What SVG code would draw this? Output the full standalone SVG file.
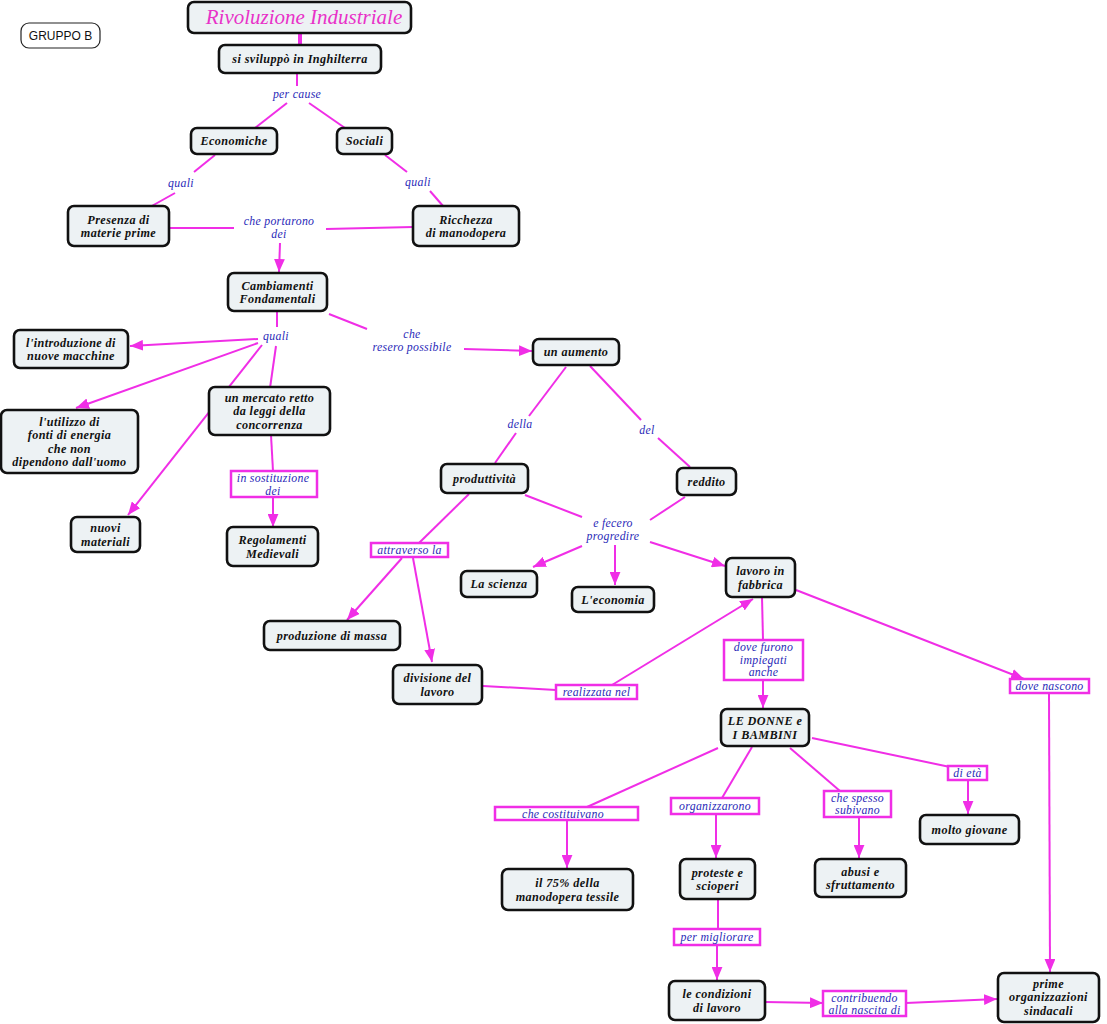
<svg xmlns="http://www.w3.org/2000/svg" width="1107" height="1024" viewBox="0 0 1107 1024">
<defs>
<marker id="ah" viewBox="0 0 12 10" refX="12" refY="5" markerWidth="13" markerHeight="11" orient="auto" markerUnits="userSpaceOnUse"><path d="M0,0 L12,5 L0,10 z" fill="#f02ee6"/></marker>
<style>
.c{stroke:#f02ee6;stroke-width:2;fill:none}
.ca{stroke:#f02ee6;stroke-width:2;fill:none;marker-end:url(#ah)}
.n rect{fill:#edf2f4;stroke:#111;stroke-width:2.6}
.n text{font-family:"Liberation Serif",serif;font-weight:bold;font-style:italic;font-size:12.2px;letter-spacing:0.4px;fill:#111;text-anchor:middle}
.l text{font-family:"Liberation Serif",serif;font-style:italic;font-size:11.8px;letter-spacing:0.3px;fill:#2a2ab8;text-anchor:middle}
.l rect{fill:#fff;stroke:#f02ee6;stroke-width:2.5}
</style>
</defs>
<rect width="1107" height="1024" fill="#fff"/>
<g id="connectors">
<path class="c" d="M300,33 L300,45" style="stroke-width:4"/>
<path class="c" d="M297,73 L297,86"/>
<path class="c" d="M287,103 L255,128"/>
<path class="c" d="M309,103 L345,128"/>
<path class="c" d="M215,155 L194,172"/>
<path class="c" d="M175,193 L150,207"/>
<path class="c" d="M385,155 L407,172"/>
<path class="c" d="M430,191 L443,206"/>
<path class="c" d="M169,228 L234,228"/>
<path class="c" d="M326,229 L413,227"/>
<path class="ca" d="M280,243 L279,272"/>
<path class="c" d="M277,311 L277,327"/>
<path class="ca" d="M258,339 L130,346"/>
<path class="ca" d="M258,343 L76,408"/>
<path class="ca" d="M262,345 L128,515"/>
<path class="c" d="M276,346 L270,388"/>
<path class="c" d="M271,435 L273,471"/>
<path class="ca" d="M273,497 L273,527"/>
<path class="c" d="M329,314 L367,329"/>
<path class="ca" d="M464,349 L532,351"/>
<path class="c" d="M566,367 L529,416"/>
<path class="c" d="M516,433 L495,463"/>
<path class="c" d="M590,366 L641,420"/>
<path class="c" d="M658,438 L690,467"/>
<path class="c" d="M525,495 L582,517"/>
<path class="c" d="M685,497 L650,520"/>
<path class="ca" d="M582,546 L533,567"/>
<path class="ca" d="M615,545 L615,585"/>
<path class="ca" d="M650,542 L725,566"/>
<path class="c" d="M469,494 L419,543"/>
<path class="ca" d="M402,558 L347,620"/>
<path class="ca" d="M413,558 L432,662"/>
<path class="c" d="M483,686 L556,690"/>
<path class="ca" d="M612,685 L753,599"/>
<path class="c" d="M762,597 L763,640"/>
<path class="ca" d="M763,680 L763,708"/>
<path class="ca" d="M796,590 L1024,679"/>
<path class="ca" d="M1049,693 L1050,972"/>
<path class="c" d="M718,748 L587,807"/>
<path class="ca" d="M567,820 L567,868"/>
<path class="c" d="M752,747 L722,798"/>
<path class="ca" d="M716,814 L716,858"/>
<path class="c" d="M790,748 L840,791"/>
<path class="ca" d="M859,817 L859,858"/>
<path class="c" d="M812,738 L950,767"/>
<path class="ca" d="M968,780 L968,814"/>
<path class="c" d="M718,899 L718,929"/>
<path class="ca" d="M717,946 L717,980"/>
<path class="ca" d="M765,1002 L823,1003"/>
<path class="ca" d="M906,1003 L997,999"/>
</g>
<g id="gruppo"><rect x="21" y="23" width="79" height="25" rx="8" fill="#fff" stroke="#222" stroke-width="1.2"/><text x="60.5" y="40" font-family="Liberation Sans,Arial,sans-serif" font-size="12" text-anchor="middle" fill="#111">GRUPPO B</text></g>
<g id="title"><rect x="188" y="2" width="223" height="31" rx="6" fill="#edf2f4" stroke="#111" stroke-width="2.6"/><text x="304" y="24" font-family="Liberation Serif,serif" font-style="italic" font-size="21" text-anchor="middle" fill="#e832c8">Rivoluzione Industriale</text></g>
<g id="n1" class="n"><rect x="219" y="45" width="162" height="28" rx="6"/><text x="300" y="63.3">si sviluppò in Inghilterra</text></g>
<g id="n2" class="n"><rect x="191" y="128" width="86" height="26" rx="6"/><text x="234" y="145.3">Economiche</text></g>
<g id="n3" class="n"><rect x="337" y="128" width="55" height="26" rx="6"/><text x="364.5" y="145.3">Sociali</text></g>
<g id="n4" class="n"><rect x="68" y="206" width="101" height="40" rx="6"/><text x="118.5" y="223.5">Presenza di</text><text x="118.5" y="237">materie prime</text></g>
<g id="n5" class="n"><rect x="413" y="206" width="106" height="40" rx="6"/><text x="466" y="223.5">Ricchezza</text><text x="466" y="237">di manodopera</text></g>
<g id="n6" class="n"><rect x="228" y="273" width="99" height="38" rx="6"/><text x="277.5" y="289.5">Cambiamenti</text><text x="277.5" y="303">Fondamentali</text></g>
<g id="n7" class="n"><rect x="14" y="330" width="114" height="38" rx="6"/><text x="71" y="346.5">l'introduzione di</text><text x="71" y="360">nuove macchine</text></g>
<g id="n8" class="n"><rect x="1" y="410" width="137" height="63" rx="6"/><text x="69.5" y="425.5">l'utilizzo di</text><text x="69.5" y="439">fonti di energia</text><text x="69.5" y="452.5">che non</text><text x="69.5" y="466">dipendono dall'uomo</text></g>
<g id="n9" class="n"><rect x="209" y="387" width="121" height="48" rx="6"/><text x="269.5" y="401.8">un mercato retto</text><text x="269.5" y="415.3">da leggi della</text><text x="269.5" y="428.8">concorrenza</text></g>
<g id="n10" class="n"><rect x="71" y="517" width="69" height="35" rx="6"/><text x="105.5" y="532">nuovi</text><text x="105.5" y="545.5">materiali</text></g>
<g id="n11" class="n"><rect x="227" y="527" width="91" height="39" rx="6"/><text x="272.5" y="544">Regolamenti</text><text x="272.5" y="557.5">Medievali</text></g>
<g id="n12" class="n"><rect x="533" y="339" width="86" height="26" rx="6"/><text x="576" y="356.3">un aumento</text></g>
<g id="n13" class="n"><rect x="441" y="464" width="87" height="29" rx="6"/><text x="484.5" y="482.8">produttività</text></g>
<g id="n14" class="n"><rect x="677" y="468" width="59" height="27" rx="6"/><text x="706.5" y="485.8">reddito</text></g>
<g id="n15" class="n"><rect x="461" y="571" width="76" height="26" rx="6"/><text x="499" y="588.3">La scienza</text></g>
<g id="n16" class="n"><rect x="572" y="587" width="82" height="25" rx="6"/><text x="613" y="603.8">L'economia</text></g>
<g id="n17" class="n"><rect x="726" y="558" width="69" height="39" rx="6"/><text x="760.5" y="575">lavoro in</text><text x="760.5" y="588.5">fabbrica</text></g>
<g id="n18" class="n"><rect x="264" y="621" width="136" height="29" rx="6"/><text x="332" y="639.8">produzione di massa</text></g>
<g id="n19" class="n"><rect x="393" y="665" width="89" height="39" rx="6"/><text x="437.5" y="682">divisione del</text><text x="437.5" y="695.5">lavoro</text></g>
<g id="n20" class="n"><rect x="721" y="709" width="88" height="37" rx="6"/><text x="765" y="725">LE DONNE e</text><text x="765" y="738.5">I BAMBINI</text></g>
<g id="n21" class="n"><rect x="502" y="869" width="131" height="41" rx="6"/><text x="567.5" y="887">il 75% della</text><text x="567.5" y="900.5">manodopera tessile</text></g>
<g id="n22" class="n"><rect x="680" y="859" width="75" height="40" rx="6"/><text x="717.5" y="876.5">proteste e</text><text x="717.5" y="890">scioperi</text></g>
<g id="n23" class="n"><rect x="815" y="859" width="91" height="38" rx="6"/><text x="860.5" y="875.5">abusi e</text><text x="860.5" y="889">sfruttamento</text></g>
<g id="n24" class="n"><rect x="920" y="815" width="99" height="29" rx="6"/><text x="969.5" y="833.8">molto giovane</text></g>
<g id="n25" class="n"><rect x="669" y="981" width="96" height="39" rx="6"/><text x="717" y="998">le condizioni</text><text x="717" y="1011.5">di lavoro</text></g>
<g id="n26" class="n"><rect x="998" y="973" width="101" height="49" rx="6"/><text x="1048.5" y="987.8">prime</text><text x="1048.5" y="1001.3">organizzazioni</text><text x="1048.5" y="1014.8">sindacali</text></g>
<g id="labels">
<g class="l"><text x="297" y="98">per cause</text></g>
<g class="l"><text x="181" y="187">quali</text></g>
<g class="l"><text x="418" y="186">quali</text></g>
<g class="l"><text x="279" y="225">che portarono</text><text x="279" y="238">dei</text></g>
<g class="l"><text x="276" y="340">quali</text></g>
<g class="l"><text x="412" y="338">che</text><text x="412" y="351">resero possibile</text></g>
<g class="l"><text x="520" y="428">della</text></g>
<g class="l"><text x="647" y="434">del</text></g>
<g class="l"><text x="613" y="527">e fecero</text><text x="613" y="540">progredire</text></g>
<g class="l"><rect x="231" y="471" width="86" height="26"/><text x="273" y="482">in sostituzione</text><text x="273" y="494.5">dei</text></g>
<g class="l"><rect x="371" y="543" width="77" height="14"/><text x="409.5" y="554">attraverso la</text></g>
<g class="l"><rect x="556" y="685" width="81" height="14"/><text x="596.5" y="696">realizzata nel</text></g>
<g class="l"><rect x="724" y="640" width="79" height="40"/><text x="763.5" y="651">dove furono</text><text x="763.5" y="663.5">impiegati</text><text x="763.5" y="676">anche</text></g>
<g class="l"><rect x="1010" y="679" width="79" height="14"/><text x="1049.5" y="690">dove nascono</text></g>
<g class="l"><rect x="495" y="807" width="143" height="13"/><text x="563" y="817.5">che costituivano</text></g>
<g class="l"><rect x="671" y="798" width="88" height="16"/><text x="715" y="810">organizzarono</text></g>
<g class="l"><rect x="824" y="791" width="67" height="26"/><text x="857.5" y="801.5">che spesso</text><text x="857.5" y="814">subivano</text></g>
<g class="l"><rect x="948" y="766" width="39" height="14"/><text x="967.5" y="777">di età</text></g>
<g class="l"><rect x="674" y="929" width="86" height="16"/><text x="717" y="941">per migliorare</text></g>
<g class="l"><rect x="823" y="991" width="83" height="25"/><text x="864.5" y="1001.5">contribuendo</text><text x="864.5" y="1013.5">alla nascita di</text></g>
</g>
</svg>
